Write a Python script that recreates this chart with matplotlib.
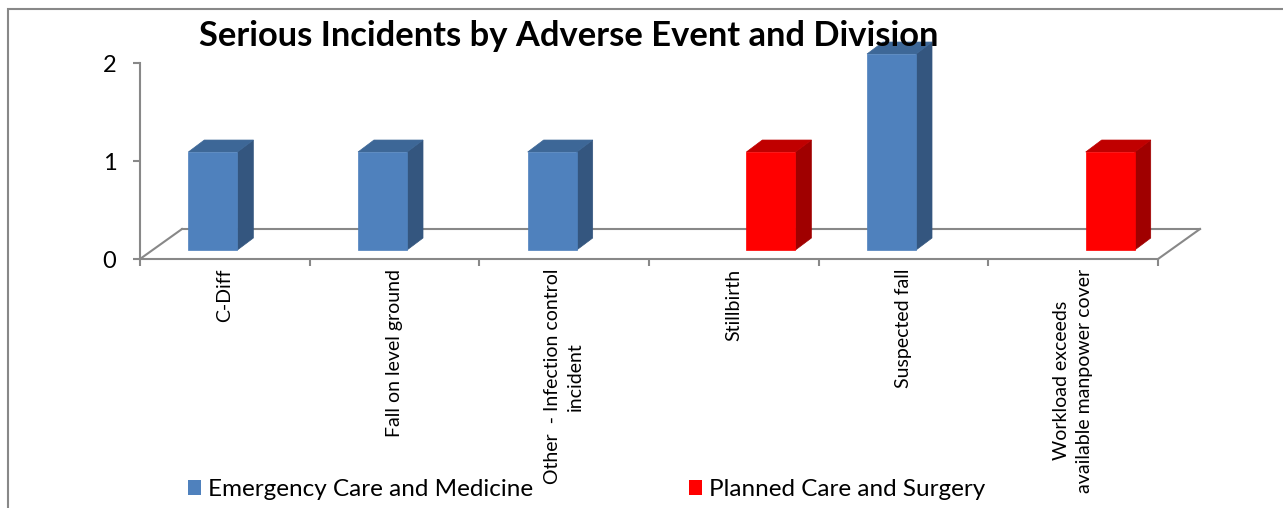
import matplotlib.pyplot as plt
from matplotlib.patches import Polygon, Rectangle

plt.rcParams['font.family'] = ['Lato', 'DejaVu Sans']

# Data
categories = ['C-Diff', 'Fall on level ground', 'Other  - Infection control\nincident',
              'Stillbirth', 'Suspected fall', 'Workload exceeds\navailable manpower cover']
series_names = ['Emergency Care and Medicine', 'Planned Care and Surgery']
ecm_counts = [1, 1, 1, 0, 2, 0]
pcs_counts = [0, 0, 0, 1, 0, 1]
yticks = [0, 1, 2]

# colours (front, side, top)
blue = ('#4F81BD', '#34567F', '#3D6797')
red = ('#FF0000', '#A00000', '#C00000')
grey = '#888888'

fig = plt.figure(figsize=(12.83, 5.08), dpi=100)

# outer chart border
fig.patches.append(Rectangle((8 / 1283, -0.05), 1.1, 0.05 + 1 - 9 / 508,
                             transform=fig.transFigure, fill=False,
                             edgecolor=grey, linewidth=1.5))

ax = fig.add_axes([140 / 1283, 1 - 259 / 508, 1018 / 1283, 196 / 508])
n = len(categories)
ax.set_xlim(0, n)
ax.set_ylim(0, 2)

# 3D offsets (data units)
floor_dx, floor_dy = 0.2475, 0.306
shift_x, shift_y = 0.074, 0.092
bar_w = 0.289
depth_dx, depth_dy = 0.094, 0.122

# floor
ax.plot([floor_dx, n + floor_dx], [floor_dy, floor_dy], color=grey, lw=1.5, clip_on=False, zorder=1)
ax.plot([0, floor_dx], [0, floor_dy], color=grey, lw=1.5, clip_on=False, zorder=1)
ax.plot([n, n + floor_dx], [0, floor_dy], color=grey, lw=1.5, clip_on=False, zorder=1)


def draw_bar(x0, val, cols):
    if val <= 0:
        return
    x1 = x0 + bar_w
    y0 = shift_y
    y1 = val + shift_y
    front = Polygon([(x0, y0), (x1, y0), (x1, y1), (x0, y1)], closed=True,
                    facecolor=cols[0], edgecolor=cols[0], lw=0.5, zorder=3, clip_on=False)
    side = Polygon([(x1, y0), (x1 + depth_dx, y0 + depth_dy), (x1 + depth_dx, y1 + depth_dy), (x1, y1)],
                   closed=True, facecolor=cols[1], edgecolor=cols[1], lw=0.5, zorder=3, clip_on=False)
    top = Polygon([(x0, y1), (x1, y1), (x1 + depth_dx, y1 + depth_dy), (x0 + depth_dx, y1 + depth_dy)],
                  closed=True, facecolor=cols[2], edgecolor=cols[2], lw=0.5, zorder=3, clip_on=False)
    for p in (side, top, front):
        ax.add_patch(p)


for i in range(n):
    c = i + 0.5 + shift_x
    draw_bar(c - bar_w, ecm_counts[i], blue)
    draw_bar(c, pcs_counts[i], red)

# axes styling
for s in ['top', 'right']:
    ax.spines[s].set_visible(False)
ax.spines['left'].set_color(grey)
ax.spines['bottom'].set_color(grey)
ax.spines['left'].set_linewidth(1.5)
ax.spines['bottom'].set_linewidth(1.5)
ax.spines['left'].set_zorder(2)

ax.set_yticks(yticks)
ax.set_yticklabels([str(v) for v in yticks], fontsize=17)
ax.tick_params(axis='y', length=5, width=1.5, color=grey, pad=12)

ax.set_xticks(range(n + 1))
ax.set_xticklabels([''] * (n + 1))
ax.tick_params(axis='x', which='major', length=5, width=1.5, color=grey)
ax.set_xticks([i + 0.5 for i in range(n)], categories, minor=True)
ax.tick_params(axis='x', which='minor', length=0, pad=7, labelsize=14, labelrotation=90)
for lab in ax.get_xticklabels(minor=True):
    lab.set_multialignment('center')
    lab.set_verticalalignment('top')
    lab.set_linespacing(1.4)

fig.text(569 / 1283, 1 - 36 / 508, 'Serious Incidents by Adverse Event and Division',
         fontsize=24.8, fontweight='bold', ha='center', va='center')

handles = [Rectangle((0, 0), 1, 1, facecolor=blue[0]), Rectangle((0, 0), 1, 1, facecolor=red[0])]
fig.legend(handles, series_names, loc='center left', bbox_to_anchor=(188 / 1283, 1 - 490 / 508),
           ncol=2, frameon=False, fontsize=17.5, handlelength=0.53, handleheight=0.57,
           handletextpad=0.3, columnspacing=6.4, borderpad=0, borderaxespad=0)

fig.savefig('out.png', dpi=100)
